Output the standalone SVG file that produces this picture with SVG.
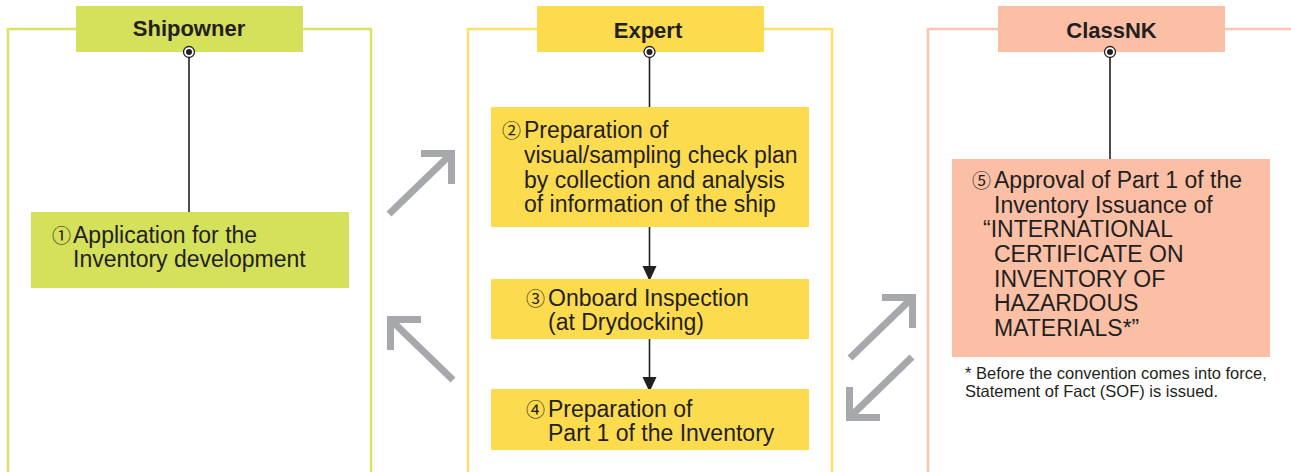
<svg xmlns="http://www.w3.org/2000/svg" width="1291" height="472" viewBox="0 0 1291 472">
<defs>
<style>
.t{font-family:"Liberation Sans",Arial,sans-serif;font-size:23px;fill:#231f20}
.h{font-family:"Liberation Sans",Arial,sans-serif;font-size:22px;font-weight:bold;fill:#231f20}
.n{font-family:"Noto Sans CJK JP","DejaVu Sans",sans-serif;font-size:19px;font-weight:400}
.f{font-family:"Liberation Sans",Arial,sans-serif;font-size:16.5px;fill:#231f20}
.ln{stroke:#231f20;stroke-width:1.6;fill:none}
.ah{fill:#231f20}
.g{stroke:#a7a8ab;stroke-width:7;fill:none;stroke-linecap:butt;stroke-linejoin:miter}
</style>
</defs>
<rect width="1291" height="472" fill="#ffffff"/>
<g id="frame-shipowner" fill="none" stroke="#d9e36a" stroke-width="2.5">
<polyline points="8,472 8,29 371,29 371,472"/>
</g>
<g id="frame-expert" fill="none" stroke="#fde06a" stroke-width="2.5">
<polyline points="468,472 468,29 832,29 832,472"/>
</g>
<g id="frame-classnk" fill="none" stroke="#fbc6b0" stroke-width="2.5">
<polyline points="928,472 928,29 1291,29"/>
</g>
<g id="connectors">
<line class="ln" x1="189" y1="52" x2="189" y2="212"/>
<line class="ln" x1="649.5" y1="52" x2="649.5" y2="107"/>
<line class="ln" x1="1110" y1="52" x2="1110" y2="159"/>
<line class="ln" x1="649.5" y1="227" x2="649.5" y2="268"/>
<path class="ah" d="M642.5,266 L656.5,266 L649.5,281 Z"/>
<line class="ln" x1="649.5" y1="339" x2="649.5" y2="379"/>
<path class="ah" d="M642.5,377 L656.5,377 L649.5,392 Z"/>
<g id="arrow-ship-to-expert"><line class="g" x1="389" y1="214" x2="449" y2="156"/><polyline class="g" points="421,153.5 451.5,153.5 451.5,184"/></g>
<g id="arrow-expert-to-ship"><line class="g" x1="453" y1="380" x2="393" y2="322"/><polyline class="g" points="421,319.5 390.5,319.5 390.5,350"/></g>
<g id="arrow-expert-to-classnk"><line class="g" x1="850" y1="358" x2="910" y2="300"/><polyline class="g" points="882,297.5 912.5,297.5 912.5,328"/></g>
<g id="arrow-classnk-to-expert"><line class="g" x1="912" y1="357" x2="852" y2="415"/><polyline class="g" points="880,417.5 849.5,417.5 849.5,387"/></g>
</g>
<g id="header-shipowner">
<rect x="76" y="6" width="227" height="46" fill="#d5e05b"/>
<text class="h" x="189" y="36" text-anchor="middle">Shipowner</text>
<circle cx="189" cy="52" r="5.5" fill="#ffffff" stroke="#231f20" stroke-width="1.3"/><circle cx="189" cy="52" r="3" fill="#231f20"/>
</g>
<g id="header-expert">
<rect x="537" y="6" width="227" height="46" fill="#fddb4e"/>
<text class="h" x="648" y="38" text-anchor="middle">Expert</text>
<circle cx="649.5" cy="52" r="5.5" fill="#ffffff" stroke="#231f20" stroke-width="1.3"/><circle cx="649.5" cy="52" r="3" fill="#231f20"/>
</g>
<g id="header-classnk">
<rect x="998" y="6" width="227" height="46" fill="#fbbfa6"/>
<text class="h" x="1111.5" y="38" text-anchor="middle">ClassNK</text>
<circle cx="1110" cy="52" r="5.5" fill="#ffffff" stroke="#231f20" stroke-width="1.3"/><circle cx="1110" cy="52" r="3" fill="#231f20"/>
</g>
<g id="step1">
<rect x="31" y="212" width="318" height="76" fill="#d5e05b"/>
<text class="t" x="52" y="243"><tspan class="n">①</tspan><tspan x="73">Application for the</tspan></text>
<text class="t" x="73" y="267">Inventory development</text>
</g>
<g id="step2">
<rect x="491" y="107" width="318" height="120" fill="#fddb4e"/>
<text class="t" x="502" y="138"><tspan class="n">②</tspan><tspan x="524">Preparation of</tspan></text>
<text class="t" x="524" y="163">visual/sampling check plan</text>
<text class="t" x="524" y="188">by collection and analysis</text>
<text class="t" x="524" y="212">of information of the ship</text>
</g>
<g id="step3">
<rect x="491" y="279" width="318" height="60" fill="#fddb4e"/>
<text class="t" x="526" y="306"><tspan class="n">③</tspan><tspan x="548">Onboard Inspection</tspan></text>
<text class="t" x="548" y="330">(at Drydocking)</text>
</g>
<g id="step4">
<rect x="491" y="389" width="318" height="61" fill="#fddb4e"/>
<text class="t" x="526" y="417"><tspan class="n">④</tspan><tspan x="548">Preparation of</tspan></text>
<text class="t" x="548" y="441">Part 1 of the Inventory</text>
</g>
<g id="step5">
<rect x="952" y="159" width="318" height="198" fill="#fbbfa6"/>
<text class="t" x="972" y="188"><tspan class="n">⑤</tspan><tspan x="994">Approval of Part 1 of the</tspan></text>
<text class="t" x="994" y="213">Inventory Issuance of</text>
<text class="t" x="983" y="237">“INTERNATIONAL</text>
<text class="t" x="994" y="262">CERTIFICATE ON</text>
<text class="t" x="994" y="287">INVENTORY OF</text>
<text class="t" x="994" y="311">HAZARDOUS</text>
<text class="t" x="994" y="336">MATERIALS*”</text>
</g>
<g id="footnote">
<text class="f" x="965" y="379">* Before the convention comes into force,</text>
<text class="f" x="965" y="397">Statement of Fact (SOF) is issued.</text>
</g>
</svg>
